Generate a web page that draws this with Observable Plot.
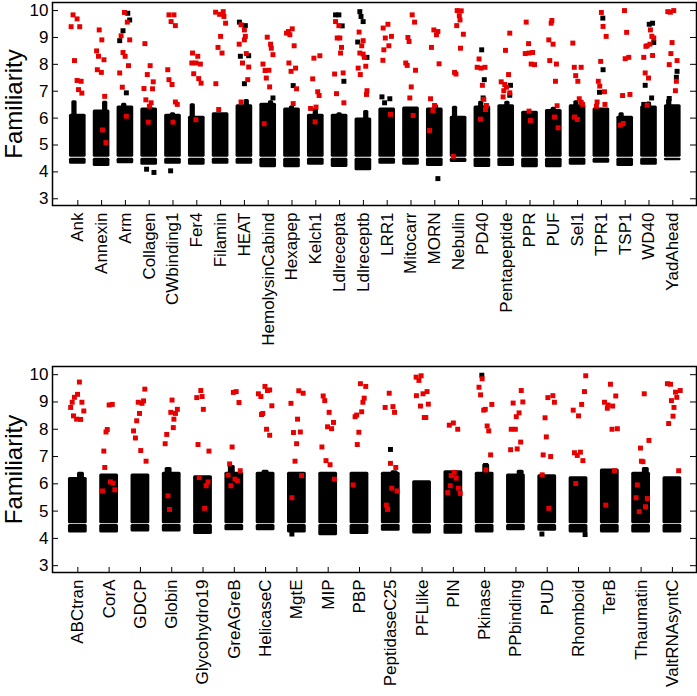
<!DOCTYPE html>
<html>
<head>
<meta charset="utf-8">
<script src="https://cdn.jsdelivr.net/npm/d3@7"></script>
<script src="https://cdn.jsdelivr.net/npm/@observablehq/plot@0.6"></script>
<style>
  body { margin: 0; background: #fff; }
  #chart svg { display: block; }
</style>
</head>
<body>
<div id="chart"></div>
<script>
// ---------- TOP PANEL DATA ----------
const topCategories = ["Ank","Annexin","Arm","Collagen","CWbinding1","Fer4","Filamin","HEAT","HemolysinCabind","Hexapep","Kelch1","Ldlrecepta","Ldlreceptb","LRR1","Mitocarr","MORN","Nebulin","PD40","Pentapeptide","PPR","PUF","Sel1","TPR1","TSP1","WD40","YadAhead"];
// dense black cloud: bottom, top of main body, highest spike, spike offset
const topLow  = [4.28,4.2,4.3,4.25,4.28,4.25,4.28,4.28,4.15,4.15,4.25,4.16,4.04,4.28,4.25,4.2,4.35,4.16,4.2,4.15,4.15,4.25,4.32,4.2,4.25,4.41];
const topHigh = [6.14,6.3,6.45,6.38,6.14,6.07,6.2,6.5,6.55,6.38,6.14,6.14,6.0,6.38,6.41,6.38,6.07,6.45,6.5,6.26,6.32,6.5,6.38,6.07,6.45,6.5];
const topPeak = [6.65,6.63,6.55,6.42,6.2,6.53,6.2,6.69,6.65,6.45,6.38,6.2,6.28,6.38,6.41,6.5,6.44,6.63,6.63,6.26,6.4,6.65,6.38,6.2,6.6,6.7];
const topPeakOffset = [-0.14,0.15,-0.05,0.05,0,-0.17,0,0.1,0.12,0,0,0,0.12,0,0,0.05,-0.15,-0.05,0.05,0,0,-0.05,0,-0.15,0,-0.15];
// [category, jitter offset, familiarity]
const topRed = [
["Ank",-0.20,9.84],["Ank",-0.03,9.69],["Ank",-0.28,9.40],["Ank",0.08,9.40],["Ank",-0.14,8.14],["Ank",-0.03,7.40],["Ank",0.14,7.37],["Ank",0.03,7.06],["Ank",0.17,6.93],
["Annexin",-0.10,9.28],["Annexin",0.01,8.91],["Annexin",-0.21,8.5],["Annexin",-0.13,8.3],["Annexin",0.10,8.17],["Annexin",-0.18,7.8],["Annexin",-0.01,7.7],["Annexin",0.13,6.81],["Annexin",0.04,5.56],["Annexin",0.18,5.09],
["Arm",-0.04,9.93],["Arm",0.08,9.57],["Arm",-0.18,9.06],["Arm",-0.10,8.44],["Arm",-0.01,8.3],["Arm",0.13,7.95],["Arm",0.18,8.91],["Arm",-0.24,7.68],["Arm",-0.13,7.15],["Arm",0.04,6.07],
["Collagen",-0.18,8.77],["Collagen",0.04,7.95],["Collagen",-0.08,7.62],["Collagen",0.17,7.35],["Collagen",-0.22,7.1],["Collagen",0.14,7.09],["Collagen",-0.14,6.68],["Collagen",0.08,6.57],["Collagen",0.01,6.44],["Collagen",-0.04,5.85],
["CWbinding1",-0.17,9.84],["CWbinding1",0.04,9.84],["CWbinding1",-0.08,9.59],["CWbinding1",0.10,9.44],["CWbinding1",-0.22,7.8],["CWbinding1",-0.17,7.43],["CWbinding1",-0.04,7.25],["CWbinding1",0.10,6.6],["CWbinding1",0.18,6.51],["CWbinding1",0,5.85],
["Fer4",-0.18,8.42],["Fer4",0.04,8.3],["Fer4",-0.21,8.05],["Fer4",-0.04,8.05],["Fer4",0.15,8.01],["Fer4",-0.13,7.65],["Fer4",0.08,7.47],["Fer4",0.18,7.3],["Fer4",-0.04,5.94],
["Filamin",-0.21,9.94],["Filamin",-0.04,9.86],["Filamin",0.11,9.96],["Filamin",0.14,9.78],["Filamin",0.21,9.53],["Filamin",0,9.04],["Filamin",-0.11,8.63],["Filamin",0.06,8.42],["Filamin",-0.20,7.28],["Filamin",-0.08,6.32],
["HEAT",-0.14,9.47],["HEAT",0,9.28],["HEAT",0.04,9.04],["HEAT",0,8.91],["HEAT",-0.22,8.75],["HEAT",0.08,8.4],["HEAT",-0.08,8.05],["HEAT",0.18,7.9],["HEAT",0.14,7.43],["HEAT",-0.14,6.6],
["HemolysinCabind",-0.04,9.01],["HemolysinCabind",0.10,8.75],["HemolysinCabind",0.13,8.6],["HemolysinCabind",0.20,8.36],["HemolysinCabind",-0.22,8.01],["HemolysinCabind",-0.13,7.77],["HemolysinCabind",0.03,7.78],["HemolysinCabind",-0.08,7.49],["HemolysinCabind",0.06,7.16],["HemolysinCabind",-0.17,5.79],
["Hexapep",-0.23,9.16],["Hexapep",-0.09,9.1],["Hexapep",0.01,9.32],["Hexapep",-0.15,9.22],["Hexapep",0.09,8.69],["Hexapep",-0.13,8.05],["Hexapep",0.15,7.86],["Hexapep",-0.04,7.74],["Hexapep",0.19,7.09],["Hexapep",0.05,6.54],
["Kelch1",-0.08,8.23],["Kelch1",0.17,8.32],["Kelch1",-0.13,7.46],["Kelch1",0.08,6.98],["Kelch1",0.14,6.84],["Kelch1",0.01,6.41],["Kelch1",-0.22,6.36],["Kelch1",-0.03,5.86],
["Ldlrecepta",-0.17,9.59],["Ldlrecepta",-0.03,9.44],["Ldlrecepta",-0.10,8.98],["Ldlrecepta",0.01,8.98],["Ldlrecepta",0.08,8.63],["Ldlrecepta",0.04,8.42],["Ldlrecepta",-0.21,7.64],["Ldlrecepta",0.15,7.68],["Ldlrecepta",-0.13,6.91],["Ldlrecepta",0.18,6.57],
["Ldlreceptb",-0.18,9.2],["Ldlreceptb",-0.01,8.88],["Ldlreceptb",-0.07,8.69],["Ldlreceptb",-0.15,8.42],["Ldlreceptb",-0.01,8.38],["Ldlreceptb",0.04,8.26],["Ldlreceptb",0.10,7.93],["Ldlreceptb",-0.22,7.86],["Ldlreceptb",-0.13,7.62],["Ldlreceptb",0.15,7.02],["Ldlreceptb",0.13,6.88],
["LRR1",-0.17,9.35],["LRR1",0.03,9.49],["LRR1",-0.08,8.98],["LRR1",0.18,9.04],["LRR1",0.07,8.69],["LRR1",-0.14,8.54],["LRR1",-0.18,8.15],["LRR1",0.14,6.14],
["Mitocarr",0.05,9.84],["Mitocarr",0.15,9.57],["Mitocarr",-0.13,9.0],["Mitocarr",-0.08,8.85],["Mitocarr",-0.22,8.05],["Mitocarr",-0.16,7.96],["Mitocarr",0.19,7.78],["Mitocarr",0.01,7.16],["Mitocarr",-0.05,6.75],["Mitocarr",0.09,6.1],
["MORN",-0.04,9.28],["MORN",0.13,9.22],["MORN",0.07,9.1],["MORN",-0.14,8.63],["MORN",0.18,8.02],["MORN",-0.18,6.72],["MORN",-0.01,6.47],["MORN",-0.08,6.28],["MORN",-0.22,5.54],
["Nebulin",-0.06,10.0],["Nebulin",0.11,9.99],["Nebulin",0.03,9.81],["Nebulin",0.06,9.65],["Nebulin",-0.08,9.44],["Nebulin",0.20,9.12],["Nebulin",0.08,8.6],["Nebulin",-0.17,7.7],["Nebulin",-0.11,7.64],["Nebulin",-0.22,4.58],
["PD40",-0.14,8.2],["PD40",-0.22,7.89],["PD40",-0.06,7.86],["PD40",0.11,7.89],["PD40",0,7.22],["PD40",0.06,6.7],["PD40",0.17,6.47],["PD40",0.13,6.32],["PD40",-0.08,5.96],
["Pentapeptide",0.15,9.16],["Pentapeptide",-0.03,8.52],["Pentapeptide",0.10,7.62],["Pentapeptide",-0.21,7.35],["Pentapeptide",-0.06,7.25],["Pentapeptide",0.01,7.15],["Pentapeptide",-0.10,7.02],["Pentapeptide",0.15,6.94],["Pentapeptide",-0.13,6.79],
["PPR",-0.16,9.57],["PPR",-0.06,8.77],["PPR",-0.20,8.4],["PPR",-0.04,8.42],["PPR",0.11,8.44],["PPR",0.05,8.01],["PPR",0.19,7.99],["PPR",-0.04,6.26],["PPR",0.02,5.91],
["PUF",-0.08,9.63],["PUF",-0.11,9.53],["PUF",-0.21,8.91],["PUF",-0.03,8.75],["PUF",-0.17,8.14],["PUF",0.11,8.01],["PUF",0.07,7.37],["PUF",0.14,6.46],["PUF",0.03,6.04],["PUF",0.18,5.64],
["Sel1",-0.20,8.79],["Sel1",-0.14,7.89],["Sel1",0.15,7.89],["Sel1",-0.08,7.58],["Sel1",0.01,7.37],["Sel1",0.07,6.72],["Sel1",0.15,6.59],["Sel1",0.21,6.51],["Sel1",-0.13,6.04],["Sel1",-0.01,5.95],
["TPR1",0,9.93],["TPR1",0.07,9.41],["TPR1",0.20,9.04],["TPR1",-0.03,8.11],["TPR1",-0.13,7.37],["TPR1",-0.07,7.19],["TPR1",0.13,6.98],["TPR1",-0.18,6.6],["TPR1",-0.21,6.44],["TPR1",0.15,6.51],
["TSP1",-0.03,10.0],["TSP1",0.06,9.19],["TSP1",0,8.21],["TSP1",0.15,8.26],["TSP1",-0.11,6.84],["TSP1",0.20,6.88],["TSP1",-0.20,5.74],["TSP1",-0.08,5.8],
["WD40",0.06,9.28],["WD40",0.12,9.04],["WD40",0.20,8.98],["WD40",-0.08,8.69],["WD40",0.04,8.75],["WD40",-0.13,8.67],["WD40",0.15,8.33],["WD40",-0.22,8.26],["WD40",-0.16,7.68],["WD40",-0.02,7.49],["WD40",-0.08,6.48],
["YadAhead",-0.21,9.96],["YadAhead",-0.10,9.94],["YadAhead",0.04,10.0],["YadAhead",-0.03,8.81],["YadAhead",-0.08,8.4],["YadAhead",0.18,8.14],["YadAhead",-0.15,7.99],["YadAhead",0.15,7.37],["YadAhead",0.11,7.02]
];
const topBlack = [
["Arm",0.10,9.9],["Arm",0.18,9.65],["Arm",-0.10,9.25],["Arm",-0.24,8.88],["Arm",0.04,6.94],
["Collagen",-0.11,4.1],["Collagen",0.20,3.98],["CWbinding1",-0.10,4.04],
["HEAT",-0.21,9.57],["HEAT",0.04,9.44],["HEAT",-0.17,8.3],["HEAT",0.18,8.32],["HEAT",0,7.28],
["HemolysinCabind",0.20,6.75],["Hexapep",0.05,7.21],
["Ldlrecepta",-0.17,9.84],["Ldlrecepta",-0.03,9.84],["Ldlrecepta",0.11,9.43],["Ldlrecepta",0.18,7.37],
["Ldlreceptb",-0.15,9.96],["Ldlreceptb",-0.10,9.78],["Ldlreceptb",-0.01,9.59],["Ldlreceptb",-0.24,8.83],["Ldlreceptb",0.15,8.26],
["LRR1",-0.22,6.79],["LRR1",0.11,6.72],["LRR1",-0.11,6.57],["MORN",0.13,3.75],
["PD40",-0.03,8.54],["PD40",0.08,7.43],["PD40",0.03,6.75],["Pentapeptide",0.18,7.22],["Pentapeptide",0.15,6.85],
["TPR1",0.06,9.72],["TPR1",0.07,7.8],["TPR1",-0.08,6.96],
["WD40",0.01,9.49],["WD40",0.15,9.53],["WD40",0.20,8.81],["WD40",-0.16,7.22],["WD40",0.11,6.75],["WD40",-0.22,6.51],
["YadAhead",0.18,7.74],["YadAhead",0.15,7.52],["YadAhead",-0.15,6.73]
];

// ---------- BOTTOM PANEL DATA ----------
const bottomCategories = ["ABCtran","CorA","GDCP","Globin","Glycohydro19","GreAGreB","HelicaseC","MgtE","MIP","PBP","PeptidaseC25","PFLlike","PIN","Pkinase","PPbinding","PUD","Rhomboid","TerB","Thaumatin","ValtRNAsyntC"];
const bottomLow  = [4.2,4.2,4.23,4.23,4.14,4.28,4.28,4.2,4.1,4.14,4.26,4.16,4.15,4.2,4.28,4.26,4.2,4.2,4.2,4.2];
const bottomHigh = [6.23,6.36,6.36,6.42,6.3,6.42,6.42,6.42,6.42,6.42,6.42,6.11,6.48,6.42,6.36,6.33,6.26,6.54,6.42,6.26];
const bottomPeak = [6.42,6.36,6.36,6.6,6.3,6.67,6.5,6.42,6.42,6.42,6.48,6.11,6.48,6.73,6.5,6.33,6.26,6.54,6.6,6.26];
const bottomPeakOffset = [0.1,0,0,-0.1,0,-0.08,0,0,0,0,0.12,0,0,0.05,0.15,0,0,0,0.15,0];
const bottomRed = [
["ABCtran",0.05,9.73],["ABCtran",-0.01,9.28],["ABCtran",-0.11,9.17],["ABCtran",-0.18,8.99],["ABCtran",-0.23,8.8],["ABCtran",0.13,8.99],["ABCtran",-0.14,8.49],["ABCtran",-0.04,8.37],["ABCtran",0.09,8.36],["ABCtran",0.19,8.67],
["CorA",0,8.89],["CorA",0.10,8.91],["CorA",-0.06,7.99],["CorA",-0.10,7.9],["CorA",-0.17,7.2],["CorA",-0.14,6.6],["CorA",-0.21,5.74],["CorA",0.04,6.07],["CorA",0.13,6.02],["CorA",0.18,5.78],
["GDCP",0.14,9.47],["GDCP",0.10,9.04],["GDCP",-0.07,8.99],["GDCP",0.05,8.95],["GDCP",-0.03,8.58],["GDCP",-0.12,8.31],["GDCP",-0.22,7.94],["GDCP",-0.16,7.68],["GDCP",0.01,7.22],["GDCP",0.18,6.83],
["Globin",0.01,9.07],["Globin",-0.03,8.62],["Globin",0.12,8.58],["Globin",0.07,8.37],["Globin",0.18,8.73],["Globin",0.05,8.06],["Globin",-0.16,7.81],["Globin",-0.21,7.47],["Globin",-0.12,5.56],["Globin",-0.07,5.06],
["Glycohydro19",-0.07,9.42],["Glycohydro19",-0.20,9.16],["Glycohydro19",-0.03,9.2],["Glycohydro19",0.01,8.73],["Glycohydro19",-0.16,7.44],["Glycohydro19",0.19,7.2],["Glycohydro19",-0.12,6.23],["Glycohydro19",0.16,6.07],["Glycohydro19",0.10,5.93],["Glycohydro19",0.05,5.1],
["GreAGreB",-0.03,9.35],["GreAGreB",0.06,9.38],["GreAGreB",0.15,8.98],["GreAGreB",-0.07,7.35],["GreAGreB",-0.15,6.73],["GreAGreB",-0.20,6.32],["GreAGreB",0.19,6.48],["GreAGreB",0.02,6.17],["GreAGreB",0.10,6.11],["GreAGreB",-0.11,5.93],
["HelicaseC",-0.23,9.3],["HelicaseC",-0.15,9.2],["HelicaseC",-0.02,9.57],["HelicaseC",0.13,9.44],["HelicaseC",0.06,9.42],["HelicaseC",0.20,8.86],["HelicaseC",-0.09,8.58],["HelicaseC",-0.13,8.54],["HelicaseC",0.03,8.0],["HelicaseC",0.13,7.78],
["MgtE",0.06,9.41],["MgtE",0.20,9.32],["MgtE",-0.19,8.95],["MgtE",0.02,8.37],["MgtE",-0.11,7.88],["MgtE",0.11,7.9],["MgtE",-0.01,7.47],["MgtE",-0.06,6.83],["MgtE",0.15,6.3],["MgtE",-0.16,5.49],
["MIP",-0.16,9.22],["MIP",-0.11,9.05],["MIP",0.03,8.62],["MIP",0.17,8.25],["MIP",-0.02,8.09],["MIP",0.11,8.02],["MIP",-0.20,7.35],["MIP",-0.07,6.85],["MIP",0.06,6.7],["MIP",0.20,6.17],
["PBP",0.03,9.67],["PBP",0.20,9.57],["PBP",0.15,9.14],["PBP",0.11,8.99],["PBP",0.07,8.64],["PBP",-0.14,8.46],["PBP",-0.09,8.52],["PBP",-0.02,7.89],["PBP",-0.07,7.44],["PBP",-0.20,5.96],
["PeptidaseC25",-0.05,9.32],["PeptidaseC25",-0.18,8.8],["PeptidaseC25",0.07,8.83],["PeptidaseC25",0.12,8.62],["PeptidaseC25",-0.01,6.75],["PeptidaseC25",0.16,6.6],["PeptidaseC25",0.03,5.84],["PeptidaseC25",0.20,5.74],["PeptidaseC25",-0.14,5.22],["PeptidaseC25",-0.10,5.06],
["PFLlike",-0.19,9.91],["PFLlike",-0.03,9.96],["PFLlike",-0.10,9.79],["PFLlike",0.03,9.3],["PFLlike",0.16,9.38],["PFLlike",-0.18,9.23],["PFLlike",-0.05,8.85],["PFLlike",0.20,8.92],["PFLlike",0.07,8.43],["PFLlike",0.12,8.43],
["PIN",-0.13,8.15],["PIN",0,8.23],["PIN",0.14,8.0],["PIN",-0.07,6.3],["PIN",0.03,6.42],["PIN",0.09,6.21],["PIN",-0.10,5.93],["PIN",0.16,5.84],["PIN",-0.18,5.68],["PIN",0.22,5.65],
["Pkinase",-0.08,9.85],["Pkinase",-0.18,9.54],["Pkinase",-0.13,9.26],["Pkinase",-0.03,8.7],["Pkinase",0.02,8.73],["Pkinase",0.23,8.91],["Pkinase",0.08,8.12],["Pkinase",0.13,7.94],["Pkinase",0.19,7.06],["Pkinase",0.04,6.51],
["PPbinding",0.17,9.42],["PPbinding",-0.09,8.96],["PPbinding",0.22,9.0],["PPbinding",0.10,8.6],["PPbinding",0.01,8.46],["PPbinding",-0.15,8.0],["PPbinding",-0.02,8.0],["PPbinding",0.15,7.53],["PPbinding",0.04,7.28],["PPbinding",-0.17,7.25],
["PUD",0.02,9.16],["PUD",0.18,9.23],["PUD",0.23,8.99],["PUD",-0.07,8.42],["PUD",-0.03,7.72],["PUD",-0.13,7.06],["PUD",0.11,7.0],["PUD",-0.16,6.33],["PUD",0.05,5.1],
["Rhomboid",0.23,9.96],["Rhomboid",0.19,9.38],["Rhomboid",0.10,8.91],["Rhomboid",-0.17,8.7],["Rhomboid",0,8.49],["Rhomboid",-0.13,7.14],["Rhomboid",-0.04,7.04],["Rhomboid",0.06,7.16],["Rhomboid",0.14,6.85],["Rhomboid",-0.09,6.01],
["TerB",0.02,9.65],["TerB",0.19,9.22],["TerB",-0.17,8.99],["TerB",-0.06,8.89],["TerB",0.09,8.85],["TerB",-0.08,8.77],["TerB",0.07,8.0],["TerB",0.24,8.02],["TerB",0.15,6.48],["TerB",-0.13,5.22],
["Thaumatin",0.10,9.3],["Thaumatin",0.25,7.59],["Thaumatin",-0.02,7.31],["Thaumatin",0.01,6.83],["Thaumatin",0.06,6.81],["Thaumatin",-0.12,5.96],["Thaumatin",-0.16,5.49],["Thaumatin",0.20,5.46],["Thaumatin",0.14,5.16],["Thaumatin",-0.06,4.98],
["ValtRNAsyntC",-0.16,9.67],["ValtRNAsyntC",-0.06,9.65],["ValtRNAsyntC",0.10,9.36],["ValtRNAsyntC",0.25,9.42],["ValtRNAsyntC",-0.03,9.05],["ValtRNAsyntC",0.14,9.17],["ValtRNAsyntC",0.05,8.8],["ValtRNAsyntC",0.02,8.48],["ValtRNAsyntC",-0.12,8.21],["ValtRNAsyntC",0.20,6.48]
];
const bottomBlack = [
["MgtE",-0.16,4.16],["PeptidaseC25",-0.01,7.26],["Pkinase",-0.09,9.98],["Pkinase",0.03,6.67],
["PUD",-0.17,4.16],["Rhomboid",0.21,4.14]
];

const yTicks = [3,4,5,6,7,8,9,10];
const yLabel = "Familiarity";

// ---------- DRAW ----------
const RED = "#e60000";
const FONT = "'Liberation Sans', Arial, Helvetica, sans-serif";

function panel({cats, low, high, peak, peakOff, red, black, xDomain, height, marginBottom, halfWidth}) {
  const W = 697, ml = 52, mr = 1, mt = 2;
  const yDomain = [2.75, 10.3];
  const frameH = height - mt - marginBottom;
  const pxX = (W - ml - mr) / (xDomain[1] - xDomain[0]);
  const pxY = frameH / (yDomain[1] - yDomain[0]);
  const pos = new Map(cats.map((c, i) => [c, i + 1]));
  const blocks = cats.map((c, i) => ({x: i + 1, lo: low[i], hi: high[i], pk: peak[i], po: peakOff[i]}));
  const xTicks = d3.range(1, cats.length + 1);
  return Plot.plot({
    width: W, height,
    marginLeft: ml, marginRight: mr, marginTop: mt, marginBottom,
    style: {fontFamily: FONT, background: "#fff", color: "#000"},
    x: {type: "linear", domain: xDomain},
    y: {domain: yDomain},
    marks: [
      Plot.rect(blocks, {x1: d => d.x - halfWidth, x2: d => d.x + halfWidth, y1: d => d.lo, y2: 4.505, fill: "#000", rx: 1.5}),
      Plot.rect(blocks, {x1: d => d.x - halfWidth, x2: d => d.x + halfWidth, y1: 4.54, y2: d => d.hi, fill: "#000", rx: 1.5}),
      Plot.rect(blocks.filter(d => d.pk > d.hi), {x1: d => d.x + d.po - 0.11, x2: d => d.x + d.po + 0.11, y1: d => d.hi - 0.1, y2: d => d.pk, fill: "#000", rx: 1.5}),
      Plot.dot(black, {x: d => pos.get(d[0]) + d[1], y: d => d[2], symbol: "square", r: 2.8, fill: "#000"}),
      Plot.dot(red, {x: d => pos.get(d[0]) + d[1], y: d => d[2], symbol: "square", r: 2.8, fill: RED}),
      Plot.frame({stroke: "#000", strokeWidth: 1.5}),
      Plot.ruleY(yTicks, {y: d => d, x1: xDomain[0], x2: xDomain[0] + 6 / pxX, stroke: "#000"}),
      Plot.ruleY(yTicks, {y: d => d, x1: xDomain[1] - 6 / pxX, x2: xDomain[1], stroke: "#000"}),
      Plot.ruleX(xTicks, {x: d => d, y1: yDomain[0], y2: yDomain[0] + 5 / pxY, stroke: "#000"}),
      Plot.axisY(yTicks, {tickSize: 0, tickPadding: 4, fontSize: 17, label: null}),
      Plot.axisX(xTicks, {tickFormat: i => cats[i - 1], tickRotate: -90, tickSize: 0, tickPadding: 7, fontSize: 17, label: null}),
      Plot.text([yLabel], {frameAnchor: "left", dx: -38, rotate: -90, fontSize: 24, textAnchor: "middle", fill: "#000"})
    ]
  });
}

const chart = document.getElementById("chart");
chart.appendChild(panel({
  cats: topCategories, low: topLow, high: topHigh, peak: topPeak, peakOff: topPeakOffset,
  red: topRed, black: topBlack, xDomain: [-0.063, 26.996], height: 364, marginBottom: 159, halfWidth: 0.35
}));
chart.appendChild(panel({
  cats: bottomCategories, low: bottomLow, high: bottomHigh, peak: bottomPeak, peakOff: bottomPeakOffset,
  red: bottomRed, black: bottomBlack, xDomain: [0.19, 20.77], height: 332, marginBottom: 124, halfWidth: 0.30
}));
</script>
</body>
</html>
